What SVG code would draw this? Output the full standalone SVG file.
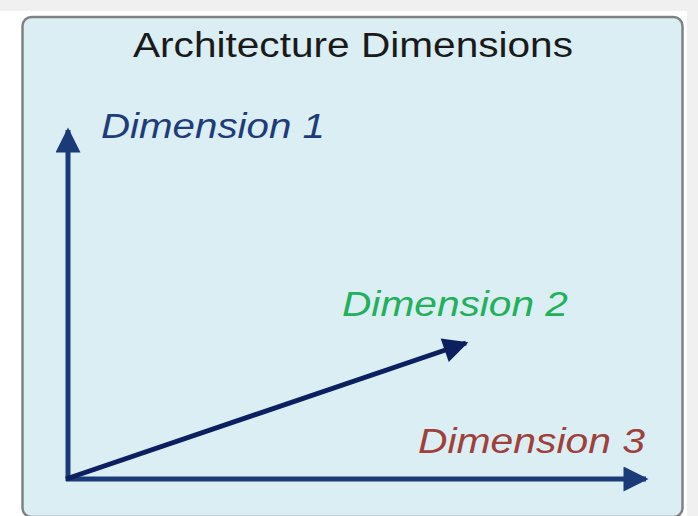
<svg xmlns="http://www.w3.org/2000/svg" width="698" height="516" viewBox="0 0 698 516">
<style>
.t{font-family:"Liberation Sans",Arial,sans-serif;font-size:35px}
.d{font-style:italic}
.ax{stroke:#1b3a78;stroke-width:5;fill:none}
</style>
<defs>
<marker id="ah" viewBox="0 0 10 10" refX="9" refY="5" markerWidth="7" markerHeight="5" markerUnits="strokeWidth" orient="auto">
<path d="M0,0 L10,5 L0,10 z" fill="#1b3a78"/>
</marker>
<marker id="ah2" viewBox="0 0 10 10" refX="9" refY="5" markerWidth="8" markerHeight="5" markerUnits="strokeWidth" orient="auto">
<path d="M0,0 L10,5 L0,10 z" fill="#0c1f5e"/>
</marker>
</defs>
<rect width="698" height="516" fill="#ffffff"/>
<rect x="0" y="0" width="698" height="11" fill="#f0f0f0"/>
<rect x="687" y="0" width="11" height="516" fill="#f0f0f0"/>
<g id="panel">
<rect x="22.5" y="17" width="660" height="500" rx="9" fill="#dbeef4" stroke="#7f8282" stroke-width="2.5"/>
<text class="t" x="353" y="57" text-anchor="middle" fill="#1a1a1a" textLength="440" lengthAdjust="spacingAndGlyphs">Architecture Dimensions</text>
</g>
<g id="connectors">
<line class="ax" x1="68" y1="481" x2="68" y2="130" marker-end="url(#ah)"/>
<line class="ax" x1="66" y1="479" x2="646" y2="479" marker-end="url(#ah)"/>
<line x1="66" y1="479" x2="466" y2="343" stroke="#0c1f5e" stroke-width="5" marker-end="url(#ah2)"/>
</g>
<g id="dim1"><text class="t d" x="101" y="138" fill="#1f3c7a" textLength="224" lengthAdjust="spacingAndGlyphs">Dimension 1</text></g>
<g id="dim2"><text class="t d" x="342" y="316" fill="#22b05a" textLength="226" lengthAdjust="spacingAndGlyphs">Dimension 2</text></g>
<g id="dim3"><text class="t d" x="418" y="453" fill="#a0403a" textLength="227" lengthAdjust="spacingAndGlyphs">Dimension 3</text></g>
</svg>
